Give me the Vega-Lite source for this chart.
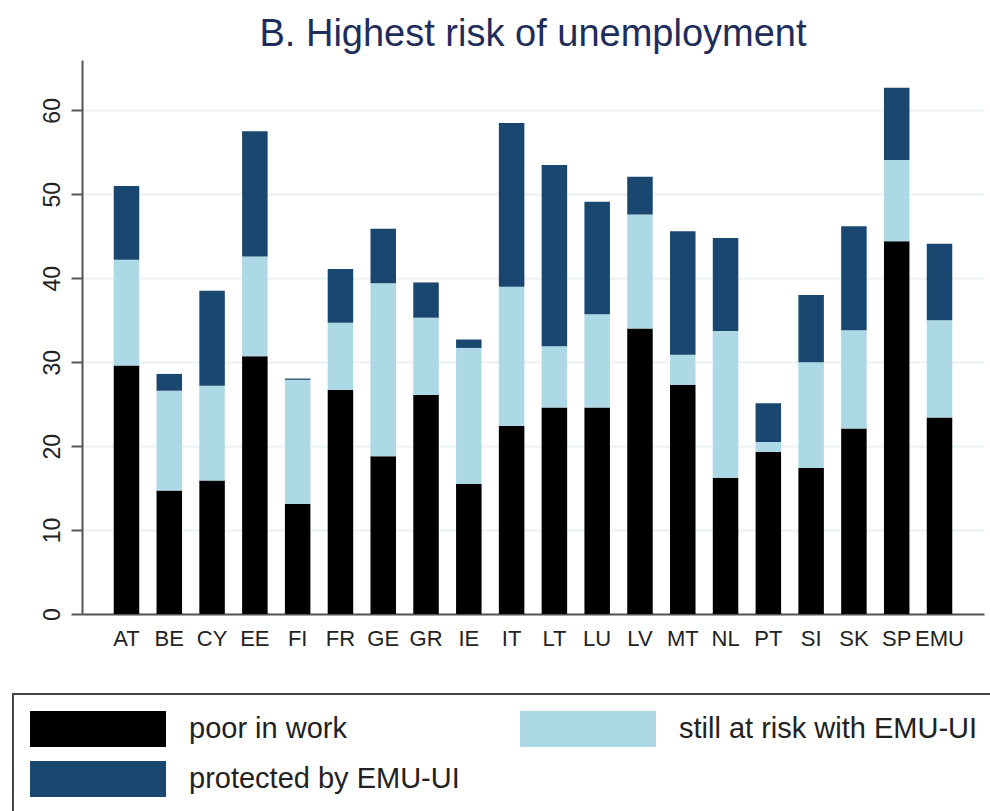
{
  "$schema": "https://vega.github.io/schema/vega-lite/v6.json",
  "autosize": {"type": "none"},
  "padding": {"left": 82, "top": 60, "right": 6, "bottom": 197},
  "width": 902,
  "height": 554,
  "background": "white",
  "title": {
    "text": "B. Highest risk of unemployment",
    "anchor": "middle",
    "font": "Liberation Sans",
    "fontSize": 38,
    "fontWeight": "normal",
    "color": "#1f2d5c",
    "offset": 6
  },
  "data": {
    "values": [
      {"country": "AT", "segment": "poor in work", "rank": 1, "value": 29.6},
      {"country": "AT", "segment": "still at risk with EMU-UI", "rank": 2, "value": 12.6},
      {"country": "AT", "segment": "protected by EMU-UI", "rank": 3, "value": 8.8},
      {"country": "BE", "segment": "poor in work", "rank": 1, "value": 14.7},
      {"country": "BE", "segment": "still at risk with EMU-UI", "rank": 2, "value": 11.9},
      {"country": "BE", "segment": "protected by EMU-UI", "rank": 3, "value": 2.0},
      {"country": "CY", "segment": "poor in work", "rank": 1, "value": 15.9},
      {"country": "CY", "segment": "still at risk with EMU-UI", "rank": 2, "value": 11.3},
      {"country": "CY", "segment": "protected by EMU-UI", "rank": 3, "value": 11.3},
      {"country": "EE", "segment": "poor in work", "rank": 1, "value": 30.7},
      {"country": "EE", "segment": "still at risk with EMU-UI", "rank": 2, "value": 11.9},
      {"country": "EE", "segment": "protected by EMU-UI", "rank": 3, "value": 14.9},
      {"country": "FI", "segment": "poor in work", "rank": 1, "value": 13.1},
      {"country": "FI", "segment": "still at risk with EMU-UI", "rank": 2, "value": 14.8},
      {"country": "FI", "segment": "protected by EMU-UI", "rank": 3, "value": 0.15},
      {"country": "FR", "segment": "poor in work", "rank": 1, "value": 26.7},
      {"country": "FR", "segment": "still at risk with EMU-UI", "rank": 2, "value": 8.0},
      {"country": "FR", "segment": "protected by EMU-UI", "rank": 3, "value": 6.4},
      {"country": "GE", "segment": "poor in work", "rank": 1, "value": 18.8},
      {"country": "GE", "segment": "still at risk with EMU-UI", "rank": 2, "value": 20.6},
      {"country": "GE", "segment": "protected by EMU-UI", "rank": 3, "value": 6.5},
      {"country": "GR", "segment": "poor in work", "rank": 1, "value": 26.1},
      {"country": "GR", "segment": "still at risk with EMU-UI", "rank": 2, "value": 9.2},
      {"country": "GR", "segment": "protected by EMU-UI", "rank": 3, "value": 4.2},
      {"country": "IE", "segment": "poor in work", "rank": 1, "value": 15.5},
      {"country": "IE", "segment": "still at risk with EMU-UI", "rank": 2, "value": 16.2},
      {"country": "IE", "segment": "protected by EMU-UI", "rank": 3, "value": 1.0},
      {"country": "IT", "segment": "poor in work", "rank": 1, "value": 22.4},
      {"country": "IT", "segment": "still at risk with EMU-UI", "rank": 2, "value": 16.6},
      {"country": "IT", "segment": "protected by EMU-UI", "rank": 3, "value": 19.5},
      {"country": "LT", "segment": "poor in work", "rank": 1, "value": 24.6},
      {"country": "LT", "segment": "still at risk with EMU-UI", "rank": 2, "value": 7.3},
      {"country": "LT", "segment": "protected by EMU-UI", "rank": 3, "value": 21.6},
      {"country": "LU", "segment": "poor in work", "rank": 1, "value": 24.6},
      {"country": "LU", "segment": "still at risk with EMU-UI", "rank": 2, "value": 11.1},
      {"country": "LU", "segment": "protected by EMU-UI", "rank": 3, "value": 13.4},
      {"country": "LV", "segment": "poor in work", "rank": 1, "value": 34.0},
      {"country": "LV", "segment": "still at risk with EMU-UI", "rank": 2, "value": 13.6},
      {"country": "LV", "segment": "protected by EMU-UI", "rank": 3, "value": 4.5},
      {"country": "MT", "segment": "poor in work", "rank": 1, "value": 27.3},
      {"country": "MT", "segment": "still at risk with EMU-UI", "rank": 2, "value": 3.6},
      {"country": "MT", "segment": "protected by EMU-UI", "rank": 3, "value": 14.7},
      {"country": "NL", "segment": "poor in work", "rank": 1, "value": 16.2},
      {"country": "NL", "segment": "still at risk with EMU-UI", "rank": 2, "value": 17.5},
      {"country": "NL", "segment": "protected by EMU-UI", "rank": 3, "value": 11.1},
      {"country": "PT", "segment": "poor in work", "rank": 1, "value": 19.3},
      {"country": "PT", "segment": "still at risk with EMU-UI", "rank": 2, "value": 1.2},
      {"country": "PT", "segment": "protected by EMU-UI", "rank": 3, "value": 4.6},
      {"country": "SI", "segment": "poor in work", "rank": 1, "value": 17.4},
      {"country": "SI", "segment": "still at risk with EMU-UI", "rank": 2, "value": 12.6},
      {"country": "SI", "segment": "protected by EMU-UI", "rank": 3, "value": 8.0},
      {"country": "SK", "segment": "poor in work", "rank": 1, "value": 22.1},
      {"country": "SK", "segment": "still at risk with EMU-UI", "rank": 2, "value": 11.7},
      {"country": "SK", "segment": "protected by EMU-UI", "rank": 3, "value": 12.4},
      {"country": "SP", "segment": "poor in work", "rank": 1, "value": 44.4},
      {"country": "SP", "segment": "still at risk with EMU-UI", "rank": 2, "value": 9.7},
      {"country": "SP", "segment": "protected by EMU-UI", "rank": 3, "value": 8.6},
      {"country": "EMU", "segment": "poor in work", "rank": 1, "value": 23.4},
      {"country": "EMU", "segment": "still at risk with EMU-UI", "rank": 2, "value": 11.6},
      {"country": "EMU", "segment": "protected by EMU-UI", "rank": 3, "value": 9.1}
    ]
  },
  "mark": {"type": "bar"},
  "encoding": {
    "x": {
      "field": "country",
      "type": "nominal",
      "sort": null,
      "scale": {"paddingInner": 0.404, "paddingOuter": 0.742},
      "axis": {
        "title": null,
        "labelAngle": 0,
        "labelFont": "Liberation Sans",
        "labelFontSize": 22,
        "labelColor": "#222222",
        "labelPadding": 14,
        "ticks": false,
        "domainColor": "#555555",
        "domainWidth": 2,
        "grid": false
      }
    },
    "y": {
      "field": "value",
      "type": "quantitative",
      "stack": "zero",
      "scale": {"domain": [0, 66], "nice": false, "zero": true},
      "axis": {
        "title": null,
        "values": [0, 10, 20, 30, 40, 50, 60],
        "labelAngle": -90,
        "labelAlign": "center",
        "labelBaseline": "bottom",
        "labelFont": "Liberation Sans",
        "labelFontSize": 23,
        "labelColor": "#222222",
        "labelPadding": 7,
        "tickSize": 11,
        "tickColor": "#555555",
        "tickWidth": 2,
        "domainColor": "#555555",
        "domainWidth": 2,
        "grid": true,
        "gridColor": "#eaf2f3",
        "gridWidth": 2
      }
    },
    "color": {
      "field": "segment",
      "type": "nominal",
      "scale": {
        "domain": ["poor in work", "still at risk with EMU-UI", "protected by EMU-UI"],
        "range": ["#000000", "#add8e6", "#1a476f"]
      },
      "legend": {
        "title": null,
        "orient": "none",
        "legendX": -69,
        "legendY": 634,
        "direction": "horizontal",
        "columns": 2,
        "columnPadding": 60,
        "rowPadding": 14,
        "padding": 17,
        "strokeColor": "#444444",
        "symbolType": "M-1,-1H6.556V1H-1Z",
        "symbolSize": 1296,
        "symbolStrokeWidth": 0,
        "symbolOpacity": 1,
        "labelFont": "Liberation Sans",
        "labelFontSize": 29,
        "labelColor": "#222222",
        "labelOffset": 123,
        "labelLimit": 600
      }
    },
    "order": {"field": "rank", "type": "quantitative"}
  },
  "config": {
    "view": {"stroke": null},
    "legend": {"strokeWidth": 2}
  }
}
